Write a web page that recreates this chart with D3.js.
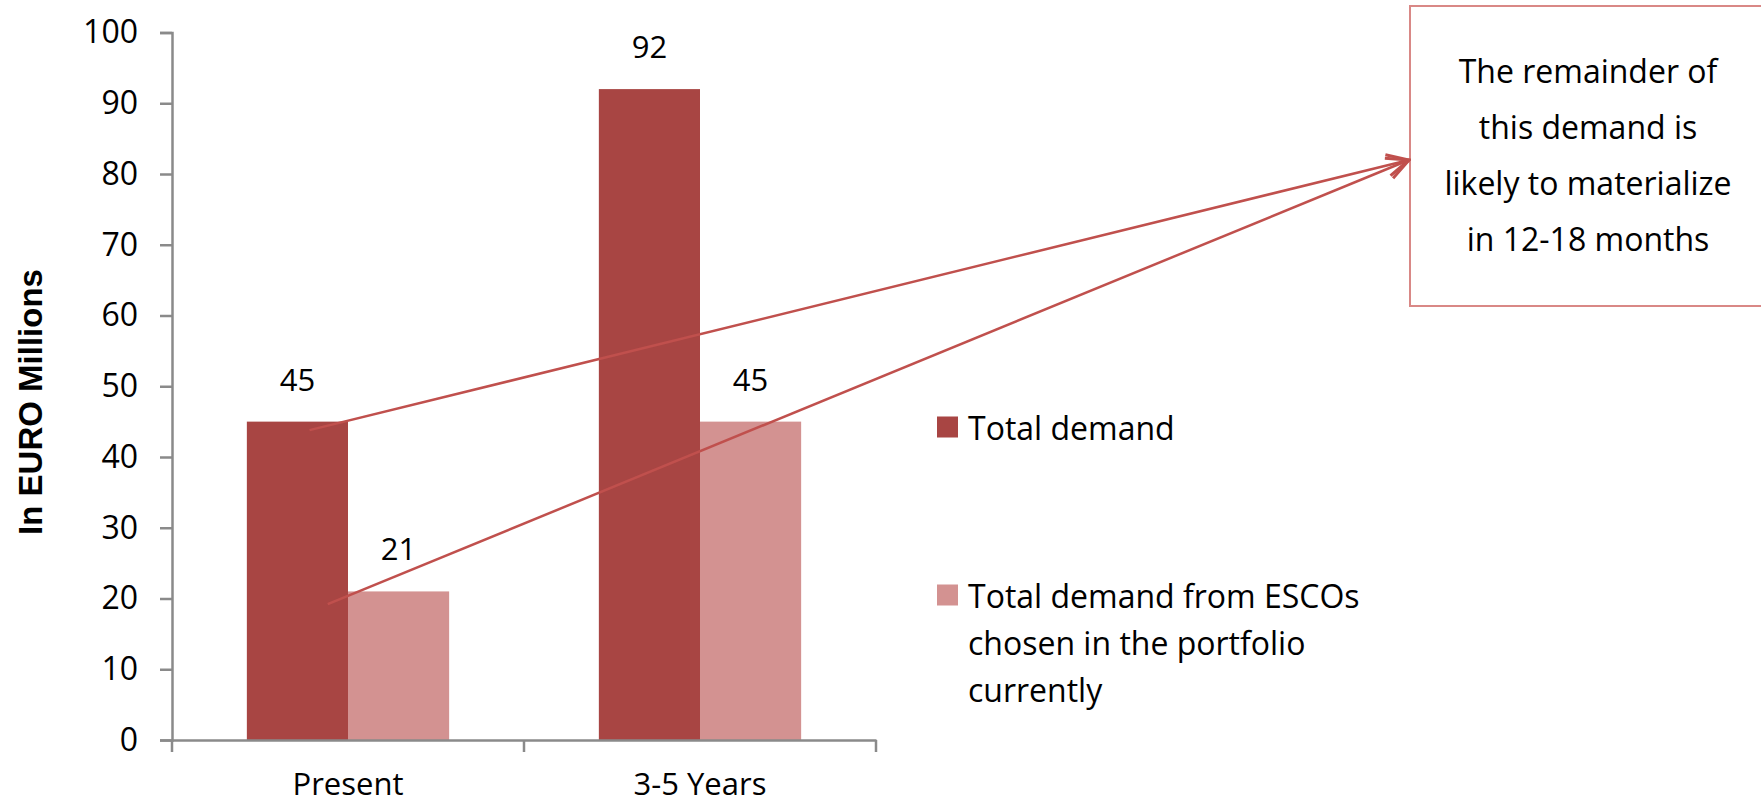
<!DOCTYPE html>
<html lang="en">
<meta charset="utf-8">
<style>
    html, body {
        margin: 0;
        padding: 0;
        background: #fff;
    }
    svg text {
        font-family: "Open Sans", sans-serif;
        fill: #000;
    }
</style>
<body>
<svg id="svg" width="1761" height="805"></svg>
<script src="https://cdn.jsdelivr.net/npm/d3@7"></script>
<script>
    // chart data
    var categories = ["Present", "3-5 Years"];
    var seriesNames = ["Total demand", "Total demand from ESCOs chosen in the portfolio currently"];
    var totalDemand = [45, 92];
    var escoDemand = [21, 45];
    var yTicks = [0, 10, 20, 30, 40, 50, 60, 70, 80, 90, 100];
    var colors = ["#a84543", "#d39291"];
    var noteLines = ["The remainder of", "this demand is", "likely to materialize", "in 12-18 months"];
    // the two arrows start on the Present "Total demand" bar at these values
    var arrowStarts = [{value: 43.8, frac: 0.62}, {value: 19.2, frac: 0.8}];

    var svg = d3.select("svg"),
        margin = {top: 32.5, right: 885, bottom: 65, left: 172},
        width = +svg.attr("width"),
        height = +svg.attr("height");

    var x = d3.scaleBand()
        .domain(categories)
        .range([margin.left, 876]);

    var x1 = d3.scaleBand()
        .domain([0, 1])
        .range([0, x.bandwidth()])
        .paddingOuter(0.74);

    var y = d3.scaleLinear()
        .domain([0, 100])
        .range([740, margin.top]);

    var data = categories.map((c, i) => ({cat: c, values: [totalDemand[i], escoDemand[i]]}));

    // bars
    var groups = svg.append("g")
        .selectAll("g").data(data).enter().append("g")
        .attr("transform", d => "translate(" + x(d.cat) + ",0)");

    groups.selectAll("rect")
        .data(d => d.values.map((v, k) => ({k: k, v: v})))
        .enter().append("rect")
        .attr("x", d => x1(d.k))
        .attr("width", x1.bandwidth())
        .attr("y", d => y(d.v))
        .attr("height", d => y(0) - y(d.v))
        .attr("fill", d => colors[d.k]);

    groups.selectAll("text.val")
        .data(d => d.values.map((v, k) => ({k: k, v: v})))
        .enter().append("text")
        .attr("class", "val")
        .attr("x", d => x1(d.k) + x1.bandwidth() / 2)
        .attr("y", d => y(d.v) - 31)
        .attr("text-anchor", "middle")
        .style("font-size", "31px")
        .text(d => d.v);

    // y axis
    var yAxis = svg.append("g")
        .attr("transform", "translate(" + margin.left + ",0)")
        .call(d3.axisLeft(y).tickValues(yTicks).tickSize(12).tickPadding(22));
    yAxis.select(".domain").attr("stroke", "#8a8a8a").attr("stroke-width", 2.5);
    yAxis.selectAll(".tick line").attr("stroke", "#8a8a8a").attr("stroke-width", 2.5);
    yAxis.selectAll(".tick text")
        .style("font-family", "'Open Sans', sans-serif")
        .style("font-size", "32px")
        .attr("fill", "#000");

    // x axis
    var xAxis = svg.append("g")
        .attr("transform", "translate(0," + y(0) + ")")
        .call(d3.axisBottom(x).tickSize(0).tickPadding(0));
    xAxis.select(".domain").attr("stroke", "#8a8a8a").attr("stroke-width", 2.5);
    xAxis.selectAll(".tick text").remove();

    var bounds = [x(categories[0])].concat(categories.map(c => x(c) + x.bandwidth()));
    xAxis.selectAll("line.sep").data(bounds).enter().append("line")
        .attr("class", "sep")
        .attr("x1", d => d).attr("x2", d => d)
        .attr("y1", 0).attr("y2", 12)
        .attr("stroke", "#8a8a8a").attr("stroke-width", 2.5);

    svg.append("g").selectAll("text").data(categories).enter().append("text")
        .attr("x", d => x(d) + x.bandwidth() / 2)
        .attr("y", 795)
        .attr("text-anchor", "middle")
        .style("font-size", "31px")
        .text(d => d);

    // y axis title
    svg.append("text")
        .attr("transform", "translate(42,402) rotate(-90)")
        .attr("text-anchor", "middle")
        .style("font-family", "'Liberation Sans', Arial, sans-serif")
        .style("font-weight", "bold")
        .style("font-size", "33px")
        .text("In EURO Millions");

    // legend
    var legendRows = [
        {lines: [seriesNames[0]], top: 427},
        {lines: ["Total demand from ESCOs", "chosen in the portfolio", "currently"], top: 595}
    ];
    var legend = svg.append("g").selectAll("g").data(legendRows).enter().append("g");
    legend.append("rect")
        .attr("x", 937)
        .attr("y", d => d.top - 10.5)
        .attr("width", 21)
        .attr("height", 21)
        .attr("fill", (d, i) => colors[i]);
    legend.append("text")
        .attr("x", 968)
        .attr("y", d => d.top)
        .attr("dominant-baseline", "central")
        .style("font-size", "32px")
        .selectAll("tspan").data(d => d.lines).enter().append("tspan")
        .attr("x", 968)
        .attr("dy", (d, i) => i === 0 ? 0 : 47)
        .text(d => d);

    // note box
    var box = {x: 1410, y: 6, w: 400, h: 300};
    svg.append("rect")
        .attr("x", box.x).attr("y", box.y)
        .attr("width", box.w).attr("height", box.h)
        .attr("fill", "#fff")
        .attr("stroke", "#d98886")
        .attr("stroke-width", 2);

    svg.append("text")
        .attr("text-anchor", "middle")
        .style("font-size", "32px")
        .selectAll("tspan").data(noteLines).enter().append("tspan")
        .attr("x", 1588)
        .attr("y", (d, i) => 70 + i * 56)
        .attr("dominant-baseline", "central")
        .text(d => d);

    // arrows
    svg.append("defs").append("marker")
        .attr("id", "head")
        .attr("viewBox", "0 0 12 12")
        .attr("refX", 11).attr("refY", 6)
        .attr("markerWidth", 26).attr("markerHeight", 26)
        .attr("markerUnits", "userSpaceOnUse")
        .attr("orient", "auto")
        .append("path")
        .attr("d", "M1,1 L11,6 L1,11")
        .attr("fill", "none")
        .attr("stroke", "#c0504d")
        .attr("stroke-width", 1.4);

    var tip = [box.x - 1, 160];
    var barX = x(categories[0]) + x1(0);
    svg.append("g").selectAll("line").data(arrowStarts).enter().append("line")
        .attr("x1", d => barX + x1.bandwidth() * d.frac)
        .attr("y1", d => y(d.value))
        .attr("x2", tip[0]).attr("y2", tip[1])
        .attr("stroke", "#c0504d")
        .attr("stroke-width", 2.5)
        .attr("marker-end", "url(#head)");
</script>
</body>
</html>
